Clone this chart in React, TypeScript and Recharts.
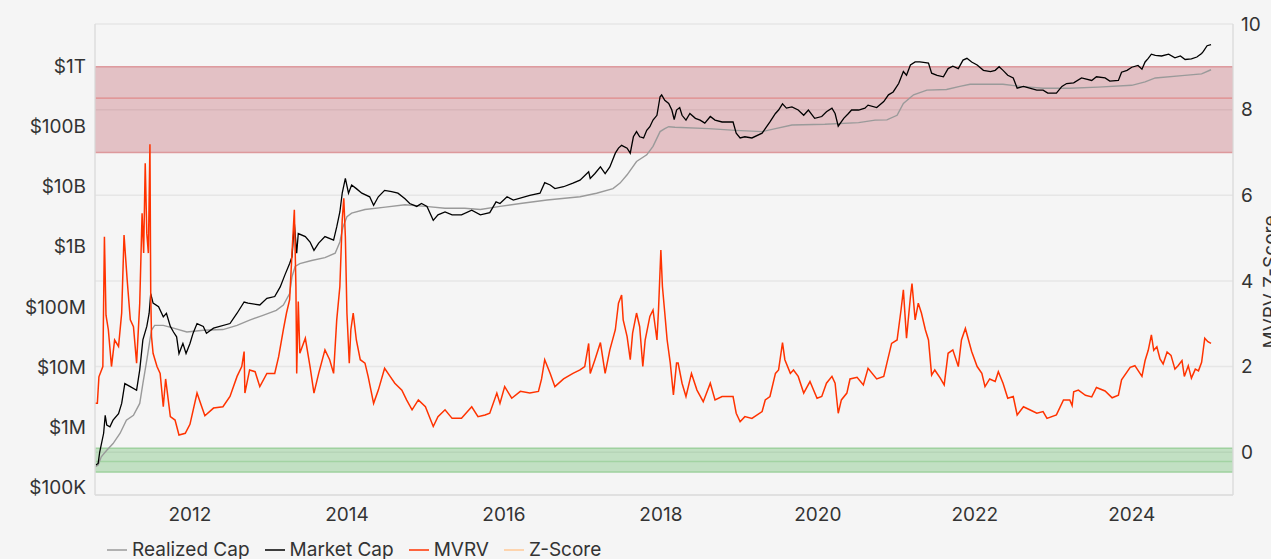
import React from 'react';
import { LineChart, Line, XAxis, YAxis, CartesianGrid, ReferenceArea, ReferenceLine, Legend } from 'recharts';

// ---- Data ----
const mvrvYears = [
  2010.79, 2010.82, 2010.84, 2010.89, 2010.91, 2010.93, 2010.96, 2011.0, 2011.04, 2011.09, 2011.13, 2011.16, 2011.2, 2011.24, 2011.28, 2011.32,
  2011.36, 2011.39, 2011.41, 2011.43, 2011.45, 2011.47, 2011.49, 2011.5, 2011.51, 2011.53, 2011.58, 2011.62, 2011.66, 2011.69, 2011.75, 2011.81,
  2011.86, 2011.94, 2012.0, 2012.09, 2012.15, 2012.19, 2012.3, 2012.42, 2012.51, 2012.6, 2012.66, 2012.69, 2012.7, 2012.76, 2012.83, 2012.89,
  2012.98, 2013.08, 2013.13, 2013.19, 2013.23, 2013.27, 2013.3, 2013.33, 2013.35, 2013.36, 2013.38, 2013.4, 2013.47, 2013.53, 2013.58, 2013.64,
  2013.72, 2013.78, 2013.83, 2013.87, 2013.91, 2013.94, 2013.96, 2013.98, 2014.0, 2014.03, 2014.05, 2014.08, 2014.12, 2014.17, 2014.23, 2014.27,
  2014.34, 2014.4, 2014.48, 2014.55, 2014.61, 2014.7, 2014.76, 2014.83, 2014.91, 2015.0, 2015.1, 2015.16, 2015.25, 2015.34, 2015.46, 2015.59,
  2015.67, 2015.76, 2015.82, 2015.91, 2015.95, 2016.01, 2016.1, 2016.21, 2016.33, 2016.44, 2016.48, 2016.52, 2016.59, 2016.65, 2016.76, 2016.88,
  2016.97, 2017.03, 2017.08, 2017.1, 2017.16, 2017.23, 2017.29, 2017.35, 2017.42, 2017.46, 2017.5, 2017.52, 2017.57, 2017.61, 2017.64, 2017.69,
  2017.73, 2017.77, 2017.8, 2017.86, 2017.9, 2017.95, 2017.97, 2018.0, 2018.02, 2018.05, 2018.08, 2018.12, 2018.16, 2018.2, 2018.22, 2018.27,
  2018.32, 2018.39, 2018.46, 2018.54, 2018.63, 2018.69, 2018.78, 2018.92, 2018.96, 2019.01, 2019.07, 2019.16, 2019.29, 2019.33, 2019.39, 2019.46,
  2019.5, 2019.55, 2019.58, 2019.65, 2019.69, 2019.75, 2019.82, 2019.9, 2019.99, 2020.05, 2020.11, 2020.18, 2020.22, 2020.26, 2020.3, 2020.37,
  2020.41, 2020.5, 2020.58, 2020.64, 2020.75, 2020.84, 2020.88, 2020.94, 2021.01, 2021.06, 2021.09, 2021.13, 2021.18, 2021.2, 2021.24, 2021.28,
  2021.32, 2021.37, 2021.41, 2021.45, 2021.49, 2021.56, 2021.61, 2021.66, 2021.72, 2021.79, 2021.83, 2021.88, 2021.92, 2021.96, 2022.03, 2022.09,
  2022.13, 2022.19, 2022.26, 2022.3, 2022.36, 2022.42, 2022.49, 2022.54, 2022.62, 2022.7, 2022.79, 2022.87, 2022.92, 2023.04, 2023.13, 2023.21,
  2023.24, 2023.26, 2023.32, 2023.41, 2023.49, 2023.55, 2023.66, 2023.75, 2023.83, 2023.87, 2023.98, 2024.04, 2024.13, 2024.17, 2024.21, 2024.25,
  2024.28, 2024.32, 2024.36, 2024.4, 2024.45, 2024.5, 2024.55, 2024.59, 2024.64, 2024.67, 2024.72, 2024.76, 2024.81, 2024.85, 2024.89, 2024.91,
  2024.93, 2024.97, 2025.01,
];
const mvrvValues = [
  1.14, 1.14, 1.76, 2.0, 5.03, 3.2, 2.86, 2.0, 2.62, 2.47, 3.25, 5.07, 4.02, 3.09, 2.93, 2.08,
  3.48, 5.58, 4.65, 6.75, 5.11, 4.65, 7.19, 3.71, 2.7, 2.31, 2.0, 1.84, 1.06, 1.71, 0.83, 0.75,
  0.4, 0.44, 0.65, 1.38, 1.06, 0.85, 1.03, 1.06, 1.3, 1.77, 2.0, 2.35, 1.38, 1.92, 1.88, 1.53,
  1.84, 1.84, 2.23, 2.86, 3.25, 3.56, 4.65, 5.66, 3.87, 1.84, 3.52, 2.31, 2.66, 2.0, 1.38, 1.84,
  2.39, 2.16, 1.84, 3.09, 3.87, 5.43, 5.93, 5.03, 3.25, 2.08, 2.86, 3.25, 2.62, 2.16, 2.08, 1.77,
  1.14, 1.45, 1.96, 1.77, 1.61, 1.45, 1.22, 0.99, 1.22, 1.06, 0.6, 0.83, 0.99, 0.79, 0.79, 1.06,
  0.83, 0.87, 0.91, 1.38, 1.14, 1.53, 1.26, 1.42, 1.38, 1.42, 1.71, 2.16, 1.84, 1.53, 1.71, 1.84,
  1.92, 2.0, 2.54, 1.84, 2.16, 2.56, 1.84, 2.39, 2.86, 3.48, 3.67, 3.09, 2.7, 2.16, 2.78, 3.25,
  2.93, 2.0, 2.62, 3.17, 3.32, 2.62, 3.32, 4.72, 3.87, 3.25, 2.62, 2.08, 1.34, 2.08, 2.08, 1.61,
  1.3, 1.84, 1.45, 1.18, 1.61, 1.22, 1.3, 1.3, 0.91, 0.71, 0.83, 0.79, 0.95, 1.22, 1.3, 1.84,
  1.92, 2.56, 2.16, 1.84, 1.92, 1.77, 1.38, 1.65, 1.26, 1.3, 1.61, 1.77, 1.61, 0.91, 1.22, 1.38,
  1.71, 1.75, 1.57, 1.96, 1.71, 1.77, 2.08, 2.54, 2.62, 3.32, 3.79, 2.66, 3.63, 3.94, 3.09, 3.48,
  3.25, 2.86, 2.62, 1.8, 1.92, 1.73, 1.57, 2.31, 2.39, 2.0, 2.62, 2.89, 2.62, 2.35, 2.0, 1.84,
  1.53, 1.71, 1.65, 1.88, 1.61, 1.26, 1.3, 0.87, 1.06, 0.99, 0.91, 0.95, 0.79, 0.87, 1.22, 1.22,
  1.09, 1.41, 1.45, 1.33, 1.29, 1.51, 1.43, 1.27, 1.33, 1.69, 1.98, 2.02, 1.77, 2.14, 2.38, 2.74,
  2.38, 2.46, 2.18, 2.06, 2.34, 2.26, 1.94, 2.02, 2.14, 1.77, 2.02, 1.73, 1.94, 1.9, 2.1, 2.38,
  2.66, 2.58, 2.54,
];

const marketYears = [
  2010.8, 2010.83, 2010.85, 2010.9, 2010.92, 2010.94, 2010.98, 2011.02, 2011.09, 2011.13, 2011.17, 2011.24, 2011.32, 2011.36, 2011.4, 2011.45,
  2011.48, 2011.5, 2011.53, 2011.6, 2011.66, 2011.7, 2011.75, 2011.79, 2011.83, 2011.86, 2011.91, 2011.95, 2012.0, 2012.04, 2012.09, 2012.17,
  2012.21, 2012.3, 2012.51, 2012.6, 2012.69, 2012.74, 2012.89, 2012.98, 2013.08, 2013.15, 2013.21, 2013.27, 2013.3, 2013.33, 2013.36, 2013.38,
  2013.47, 2013.53, 2013.58, 2013.64, 2013.72, 2013.83, 2013.87, 2013.91, 2013.94, 2013.98, 2014.02, 2014.06, 2014.12, 2014.19, 2014.29, 2014.34,
  2014.4, 2014.48, 2014.57, 2014.65, 2014.74, 2014.8, 2014.89, 2014.95, 2015.02, 2015.1, 2015.16, 2015.25, 2015.34, 2015.46, 2015.59, 2015.7,
  2015.82, 2015.9, 2015.95, 2016.04, 2016.12, 2016.33, 2016.46, 2016.52, 2016.59, 2016.65, 2016.76, 2016.88, 2016.97, 2017.08, 2017.1, 2017.16,
  2017.23, 2017.29, 2017.35, 2017.42, 2017.46, 2017.5, 2017.57, 2017.61, 2017.65, 2017.69, 2017.73, 2017.78, 2017.82, 2017.86, 2017.9, 2017.95,
  2017.99, 2018.01, 2018.05, 2018.1, 2018.14, 2018.17, 2018.2, 2018.24, 2018.27, 2018.32, 2018.37, 2018.44, 2018.5, 2018.56, 2018.63, 2018.69,
  2018.78, 2018.92, 2018.96, 2019.01, 2019.07, 2019.16, 2019.29, 2019.33, 2019.39, 2019.46, 2019.5, 2019.55, 2019.6, 2019.67, 2019.75, 2019.82,
  2019.88, 2019.96, 2020.05, 2020.11, 2020.18, 2020.22, 2020.26, 2020.33, 2020.39, 2020.43, 2020.52, 2020.6, 2020.64, 2020.75, 2020.84, 2020.9,
  2020.96, 2021.03, 2021.09, 2021.13, 2021.18, 2021.24, 2021.3, 2021.37, 2021.41, 2021.45, 2021.52, 2021.6, 2021.66, 2021.72, 2021.79, 2021.85,
  2021.9, 2021.96, 2022.03, 2022.11, 2022.2, 2022.26, 2022.31, 2022.36, 2022.42, 2022.49, 2022.54, 2022.62, 2022.7, 2022.79, 2022.87, 2022.93,
  2023.04, 2023.11, 2023.17, 2023.26, 2023.36, 2023.49, 2023.55, 2023.66, 2023.72, 2023.83, 2023.87, 2023.94, 2024.0, 2024.08, 2024.13, 2024.17,
  2024.21, 2024.25, 2024.3, 2024.38, 2024.47, 2024.55, 2024.62, 2024.68, 2024.76, 2024.83, 2024.89, 2024.91, 2024.96, 2025.01,
];
const marketCap = [
  2.3e5, 2.45e5, 3.8e5, 7.8e5, 1.55e6, 1.07e6, 1.0e6, 1.29e6, 1.66e6, 2.45e6, 5.25e6, 4.68e6, 4.07e6, 8.9e6, 2.8e7, 4.7e7,
  7.8e7, 1.66e8, 1.15e8, 1.0e8, 6.8e7, 7.8e7, 4.7e7, 3.8e7, 3.16e7, 1.66e7, 2.45e7, 1.66e7, 2.45e7, 3.63e7, 5.25e7, 4.7e7,
  3.63e7, 4.4e7, 5.25e7, 7.8e7, 1.2e8, 1.15e8, 1.07e8, 1.38e8, 1.48e8, 2.14e8, 3.4e8, 5.25e8, 6.8e8, 2.45e9, 7.8e8, 1.66e9,
  1.48e9, 1.2e9, 8.7e8, 1.15e9, 1.48e9, 1.29e9, 2.14e9, 3.8e9, 7.8e9, 1.38e10, 7.8e9, 1.07e10, 9.3e9, 7.8e9, 6.8e9, 4.9e9,
  6.8e9, 8.7e9, 8.3e9, 7.8e9, 6.3e9, 5.25e9, 4.7e9, 5.25e9, 4.7e9, 2.75e9, 3.4e9, 3.8e9, 3.4e9, 3.4e9, 4.07e9, 3.4e9,
  3.7e9, 5.6e9, 5.25e9, 6.8e9, 6.0e9, 7.2e9, 7.8e9, 1.17e10, 1.07e10, 9.3e9, 1.0e10, 1.15e10, 1.29e10, 1.78e10, 1.38e10, 1.66e10,
  2.14e10, 1.66e10, 2.14e10, 3.63e10, 4.4e10, 4.9e10, 4.4e10, 3.63e10, 6.8e10, 8.3e10, 6.8e10, 6.5e10, 8.7e10, 1.0e11, 1.29e11, 1.55e11,
  3.16e11, 3.4e11, 2.75e11, 2.45e11, 1.9e11, 1.32e11, 1.9e11, 2.09e11, 1.55e11, 1.29e11, 1.66e11, 1.38e11, 1.29e11, 1.15e11, 1.48e11, 1.29e11,
  1.2e11, 1.2e11, 7.8e10, 6.5e10, 6.8e10, 6.5e10, 7.8e10, 9.3e10, 1.2e11, 1.66e11, 1.9e11, 2.4e11, 2.04e11, 2.14e11, 1.9e11, 1.55e11,
  1.9e11, 1.38e11, 1.48e11, 1.78e11, 2.04e11, 1.66e11, 1.02e11, 1.38e11, 1.66e11, 1.9e11, 1.9e11, 2.04e11, 2.29e11, 2.09e11, 2.63e11, 3.4e11,
  3.8e11, 5.25e11, 8.3e11, 7.2e11, 1.07e12, 1.2e12, 1.2e12, 1.17e12, 1.15e12, 7.8e11, 7.2e11, 6.8e11, 9.3e11, 1.02e12, 9.3e11, 1.29e12,
  1.38e12, 1.2e12, 1.07e12, 8.7e11, 8.3e11, 8.7e11, 1.0e12, 8.7e11, 7.2e11, 6.5e11, 4.4e11, 4.7e11, 4.4e11, 4.07e11, 4.07e11, 3.63e11,
  3.63e11, 4.7e11, 5.25e11, 5.4e11, 6.5e11, 5.9e11, 6.8e11, 6.5e11, 5.75e11, 5.9e11, 8.1e11, 8.7e11, 9.8e11, 1.05e12, 9.1e11, 1.2e12,
  1.38e12, 1.62e12, 1.55e12, 1.51e12, 1.62e12, 1.41e12, 1.51e12, 1.32e12, 1.35e12, 1.45e12, 1.66e12, 1.78e12, 2.24e12, 2.34e12,
];

const realizedYears = [
  2010.79, 2010.83, 2010.87, 2010.94, 2011.02, 2011.11, 2011.19, 2011.28, 2011.36, 2011.4, 2011.45, 2011.49, 2011.51, 2011.55, 2011.66, 2011.79,
  2011.96, 2012.17, 2012.42, 2012.6, 2012.76, 2012.93, 2013.1, 2013.19, 2013.27, 2013.3, 2013.34, 2013.4, 2013.55, 2013.72, 2013.85, 2013.91,
  2013.95, 2014.0, 2014.06, 2014.23, 2014.49, 2014.74, 2015.0, 2015.25, 2015.5, 2015.7, 2015.95, 2016.21, 2016.55, 2016.97, 2017.18, 2017.39,
  2017.48, 2017.57, 2017.69, 2017.82, 2017.9, 2017.99, 2018.05, 2018.1, 2018.18, 2018.61, 2018.95, 2019.29, 2019.46, 2019.67, 2020.09, 2020.52,
  2020.73, 2020.88, 2021.01, 2021.09, 2021.22, 2021.39, 2021.64, 2021.81, 2021.94, 2022.36, 2022.58, 2022.87, 2023.21, 2023.57, 2024.0, 2024.17,
  2024.3, 2024.64, 2024.89, 2025.01,
];
const realizedCap = [
  2.14e5, 2.3e5, 3.16e5, 4.07e5, 5.25e5, 7.8e5, 1.29e6, 1.55e6, 2.45e6, 5.25e6, 1.29e7, 2.8e7, 4.07e7, 4.9e7, 4.9e7, 4.4e7,
  3.8e7, 4.07e7, 4.17e7, 4.9e7, 6.0e7, 7.2e7, 8.7e7, 1.07e8, 1.66e8, 3.16e8, 4.7e8, 5.25e8, 5.9e8, 6.6e8, 7.8e8, 1.2e9,
  2.14e9, 3.16e9, 3.63e9, 4.17e9, 4.57e9, 5.0e9, 4.7e9, 4.37e9, 4.37e9, 4.17e9, 4.7e9, 5.25e9, 6.0e9, 6.8e9, 7.8e9, 9.3e9,
  1.15e10, 1.58e10, 2.63e10, 3.4e10, 4.7e10, 8.3e10, 9.3e10, 1.0e11, 9.8e10, 9.3e10, 8.7e10, 8.3e10, 9.3e10, 1.07e11, 1.1e11, 1.17e11,
  1.29e11, 1.3e11, 1.55e11, 2.45e11, 3.4e11, 4.07e11, 4.17e11, 4.7e11, 5.1e11, 5.1e11, 4.7e11, 4.37e11, 4.37e11, 4.57e11, 4.9e11, 5.6e11,
  6.5e11, 7.1e11, 7.6e11, 8.9e11,
];

const yearTicks = [2012, 2014, 2016, 2018, 2020, 2022, 2024];
const capTicks = [1e5, 1e6, 1e7, 1e8, 1e9, 1e10, 1e11, 1e12];
const capTickLabels = ['$100K', '$1M', '$10M', '$100M', '$1B', '$10B', '$100B', '$1T'];
const zTicks = [0, 2, 4, 6, 8, 10];

const seriesNames = ['Realized Cap', 'Market Cap', 'MVRV', 'Z-Score'];

// zones on the Z-score axis
const redZone = [7, 9];
const redLineLevel = 8.27;
const greenZone = [-0.46, 0.09];
const greenLineLevel = -0.22;

const mvrvData = mvrvYears.map((t, i) => ({ t, v: mvrvValues[i] }));
const marketData = marketYears.map((t, i) => ({ t, v: marketCap[i] }));
const realizedData = realizedYears.map((t, i) => ({ t, v: realizedCap[i] }));

const FONT = 'Inter, "Noto Sans", sans-serif';
const TEXT = '#333333';
const AXIS = '#dcdcdc';
const FS = 19;

const RightLabel = (props: any) => {
  const vb = props.viewBox || {};
  const x = vb.x + vb.width + 6;
  const y = 282;
  return (
    <text x={x} y={y} textAnchor="middle" fill={TEXT} fontSize={FS} fontFamily={FONT} transform={`rotate(-90 ${x} ${y})`}>
      MVRV Z-Score
    </text>
  );
};

const LegendContent = (props: any) => {
  const payload = [...(props.payload || [])].sort(
    (a: any, b: any) => seriesNames.indexOf(a.value) - seriesNames.indexOf(b.value)
  );
  return (
    <div style={{ display: 'flex', alignItems: 'center', fontFamily: FONT, fontSize: FS, color: TEXT, whiteSpace: 'nowrap' }}>
      {payload.map((p: any, i: number) => (
        <div key={i} style={{ display: 'flex', alignItems: 'center', marginRight: 15 }}>
          <svg width={20} height={10} style={{ display: 'block' }}>
            <line x1={0} y1={5} x2={20} y2={5} stroke={p.color} strokeWidth={1.5} />
          </svg>
          <span style={{ marginLeft: 5 }}>{p.value}</span>
        </div>
      ))}
    </div>
  );
};

export default function App() {
  return (
    <div style={{ width: 1271, height: 559, overflow: 'hidden', background: '#f5f5f5', fontFamily: FONT, position: 'relative' }}>
      <style>{`html,body{margin:0;padding:0;background:#f5f5f5;overflow:hidden;}`}</style>
      <LineChart width={1271} height={559} margin={{ top: 24, right: 0, left: 0, bottom: 12 }}>
        <CartesianGrid yAxisId="z" vertical={false} stroke="#e6e6e6" strokeWidth={1.5} />
        <ReferenceArea yAxisId="z" y1={redZone[0]} y2={redZone[1]} fill="#b84a55" fillOpacity={0.3} stroke="#d9888c" strokeOpacity={0.8} strokeWidth={1.5} ifOverflow="hidden" />
        <ReferenceLine yAxisId="z" y={redLineLevel} stroke="#e08a8a" strokeWidth={1.2} />
        <ReferenceArea yAxisId="z" y1={greenZone[0]} y2={greenZone[1]} fill="#4caf50" fillOpacity={0.3} stroke="#9fd19f" strokeWidth={1.5} ifOverflow="hidden" />
        <ReferenceLine yAxisId="z" y={greenLineLevel} stroke="#a3d3a3" strokeWidth={1.5} />
        <XAxis
          dataKey="t"
          type="number"
          domain={[2010.79, 2025.29]}
          allowDataOverflow
          ticks={yearTicks}
          tickFormatter={(v: number) => String(v)}
          tickLine={false}
          tickMargin={7}
          height={30}
          stroke={AXIS}
          strokeWidth={1.5}
          tick={{ fill: TEXT, fontSize: FS, fontFamily: FONT }}
        />
        <YAxis
          yAxisId="cap"
          orientation="left"
          scale="log"
          type="number"
          domain={[7.3e4, 5.15e12]}
          allowDataOverflow
          ticks={capTicks}
          tickFormatter={(v: number) => capTickLabels[capTicks.indexOf(v)] ?? ''}
          width={95}
          tickLine={false}
          tickMargin={3}
          stroke={AXIS}
          strokeWidth={1.5}
          tick={{ fill: TEXT, fontSize: FS, fontFamily: FONT }}
        />
        <YAxis
          yAxisId="z"
          orientation="right"
          type="number"
          domain={[-1, 10]}
          allowDataOverflow
          ticks={zTicks}
          width={38}
          tickLine={false}
          stroke={AXIS}
          strokeWidth={1.5}
          tick={{ fill: TEXT, fontSize: FS, fontFamily: FONT, textAnchor: 'start' }}
          label={<RightLabel />}
        />
        <Line yAxisId="cap" data={realizedData} dataKey="v" name={seriesNames[0]} stroke="#9a9a9a" strokeWidth={1.4} dot={false} isAnimationActive={false} />
        <Line yAxisId="cap" data={marketData} dataKey="v" name={seriesNames[1]} stroke="#000000" strokeWidth={1.3} dot={false} isAnimationActive={false} />
        <Line yAxisId="z" data={mvrvData} dataKey="v" name={seriesNames[2]} stroke="#ff3300" strokeWidth={1.5} dot={false} isAnimationActive={false} />
        <Line yAxisId="z" data={[]} dataKey="v" name={seriesNames[3]} stroke="#ffc896" strokeWidth={1.5} dot={false} isAnimationActive={false} />
        <Legend
          content={<LegendContent />}
          verticalAlign="bottom"
          wrapperStyle={{ top: 538, left: 107, width: 700, height: 22 }}
        />
      </LineChart>
    </div>
  );
}
